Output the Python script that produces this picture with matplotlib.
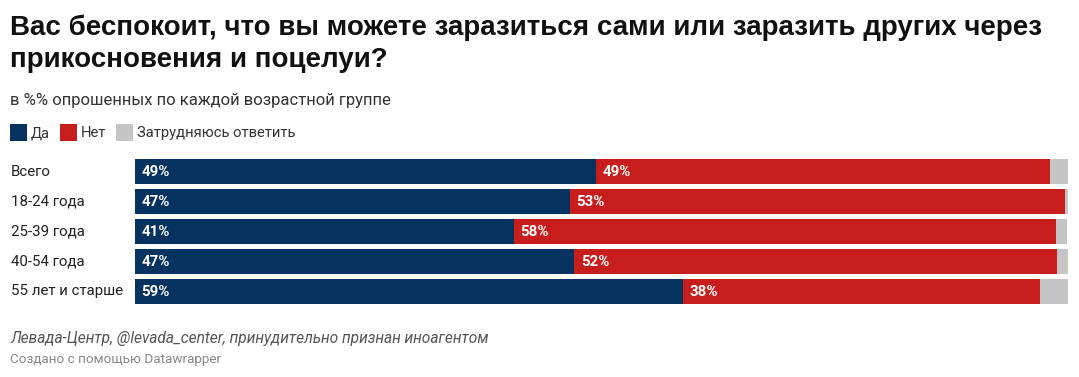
import matplotlib
matplotlib.use("Agg")
import matplotlib.pyplot as plt
from matplotlib.patches import Rectangle

W, H = 1079, 377
categories = ["Всего", "18-24 года", "25-39 года", "40-54 года", "55 лет и старше"]
yes = [49.4, 46.6, 40.6, 47.1, 58.7]
no = [48.7, 53.1, 58.1, 51.7, 38.3]
unsure = [1.9, 0.3, 1.2, 1.3, 3.0]
series_names = ["Да", "Нет", "Затрудняюсь ответить"]
colors = ["#05325f", "#c71e1d", "#c5c5c5"]

title = "Вас беспокоит, что вы можете заразиться сами или заразить других через\nприкосновения и поцелуи?"
subtitle = "в %% опрошенных по каждой возрастной группе"
source = "Левада-Центр, @levada_center, принудительно признан иноагентом"
credit = "Создано с помощью Datawrapper"

fig = plt.figure(figsize=(W / 100, H / 100), dpi=100)

def fx(x):
    return x / W

def fy(y):
    return 1 - y / H

ax = fig.add_axes([fx(135), fy(306.5), fx(1068) - fx(135), (306.5 - 156.5) / H])
ax.set_xlim(0, 100)
ax.set_ylim(len(categories) - 0.5, -0.5)
ax.axis("off")

ypos = list(range(len(categories)))
ax.barh(ypos, yes, height=25 / 30, color=colors[0], linewidth=0)
ax.barh(ypos, no, left=yes, height=25 / 30, color=colors[1], linewidth=0)
lefts = [a + b for a, b in zip(yes, no)]
ax.barh(ypos, unsure, left=lefts, height=25 / 30, color=colors[2], linewidth=0)

label_x = -(135 - 11) / 933 * 100
for i in ypos:
    ax.text(0.7, i, f"{round(yes[i])}%", color="white", fontsize=10.8, fontweight="semibold",
            family="Roboto", va="center", ha="left")
    ax.text(yes[i] + 0.7, i, f"{round(no[i])}%", color="white", fontsize=10.8, fontweight="semibold",
            family="Roboto", va="center", ha="left")
    ax.text(label_x, i, categories[i], color="#222222", fontsize=10.8,
            family="Roboto", va="center", ha="left")

fig.text(fx(10), fy(44), title, fontsize=20, fontweight="bold", family="Liberation Sans",
         color="#111111", va="center", ha="left", linespacing=1.28)
fig.text(fx(10), fy(101), subtitle, fontsize=12, family="Roboto", color="#333333",
         va="center", ha="left")

# legend
lx = 10
for name, c in zip(series_names, colors):
    fig.patches.append(Rectangle((fx(lx), fy(141)), 17 / W, 17 / H, transform=fig.transFigure,
                                 facecolor=c, edgecolor="none"))
    t = fig.text(fx(lx + 21), fy(133), name, fontsize=10.6, family="Roboto", color="#333333",
                 va="center", ha="left")
    fig.canvas.draw()
    bb = t.get_window_extent()
    lx = bb.x1 + 10

fig.text(fx(10), fy(338), source, fontsize=11.2, family="Roboto", style="italic",
         color="#555555", va="center", ha="left")
fig.text(fx(10), fy(360), credit, fontsize=9.7, family="Roboto", color="#888888",
         va="center", ha="left")

fig.savefig("out.png", dpi=100)
